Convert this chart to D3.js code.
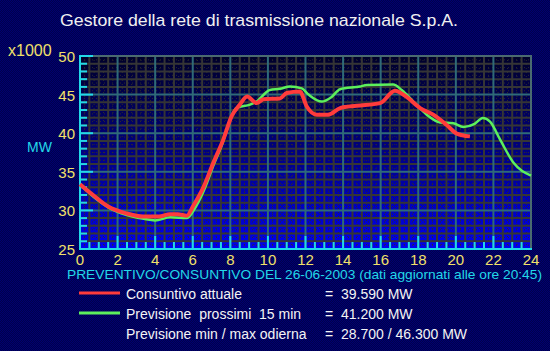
<!DOCTYPE html>
<html>
<head>
<meta charset="utf-8">
<script src="https://cdn.jsdelivr.net/npm/d3@7"></script>
<style>
  body { margin: 0; background: #000058; }
  svg { display: block; }
  text { font-family: "Liberation Sans", Arial, sans-serif; }
</style>
</head>
<body>
<svg id="chart" width="550" height="351"></svg>
<script>
// data (hours, MW x1000)
const consuntivoOre = [0, 0.14, 0.71, 1.5, 2.48, 3.37, 4.2, 4.79, 5.2, 5.68, 6.03, 6.56, 7.1, 7.63, 8.07, 8.5, 8.9, 9.4, 9.76, 10.64, 11.0, 11.7, 12.06, 12.6, 13.2, 13.84, 14.72, 15.97, 16.76, 17.38, 18.1, 18.8, 19.5, 20.05, 20.75];
const consuntivoMW  = [33.4, 33.1, 31.96, 30.5, 29.6, 29.2, 29.2, 29.5, 29.5, 29.3, 30.6, 32.95, 36.2, 39.2, 42.2, 43.7, 44.75, 43.9, 44.4, 44.5, 45.2, 45.4, 43.5, 42.4, 42.4, 43.25, 43.55, 43.9, 45.5, 44.7, 43.25, 42.4, 41.1, 39.95, 39.59];

const previsioneOre = [0, 0.7, 1.5, 2.5, 3.4, 4.0, 4.8, 5.7, 6.1, 6.6, 7.1, 7.6, 8.0, 8.34, 9.05, 9.4, 10.1, 10.64, 11.18, 11.8, 12.18, 12.86, 13.39, 13.84, 14.9, 15.26, 16.67, 17.12, 17.74, 18.45, 19.16, 19.86, 20.4, 21.0, 21.43, 21.82, 22.35, 23.06, 24];
const previsioneMW  = [33.3, 31.8, 30.4, 29.4, 28.9, 28.7, 29.1, 29.0, 30.2, 32.6, 35.8, 38.8, 41.8, 43.3, 43.7, 44.1, 45.6, 45.75, 46.05, 45.8, 44.97, 44.1, 44.7, 45.7, 46.05, 46.25, 46.3, 45.6, 44.1, 42.4, 41.4, 41.3, 40.8, 41.2, 41.96, 41.5, 39.2, 36.2, 34.5];

const xTicks = [0, 2, 4, 6, 8, 10, 12, 14, 16, 18, 20, 22, 24];
const yTicks = [25, 30, 35, 40, 45, 50];

const titolo = "Gestore della rete di trasmissione nazionale S.p.A.";
const sottotitolo = "PREVENTIVO/CONSUNTIVO DEL 26-06-2003 (dati aggiornati alle ore 20:45)";
const legenda = [
  { nome: "Consuntivo attuale", valore: "=  39.590 MW", colore: "#ff3b3b" },
  { nome: "Previsione  prossimi  15 min", valore: "=  41.200 MW", colore: "#5cf05c" },
  { nome: "Previsione min / max odierna", valore: "=  28.700 / 46.300 MW", colore: null }
];

const svg = d3.select("#chart");
const pLeft = 80, pRight = 531, pTop = 56, pBottom = 249;

const x = d3.scaleLinear().domain([0, 24]).range([pLeft, pRight]);
const y = d3.scaleLinear().domain([25, 50]).range([pBottom, pTop]);

// dithered background
const defs = svg.append("defs");
const pat = defs.append("pattern")
    .attr("id", "dither")
    .attr("width", 2).attr("height", 2)
    .attr("patternUnits", "userSpaceOnUse");
pat.append("rect").attr("width", 2).attr("height", 2).attr("fill", "#00004c");
pat.append("rect").attr("width", 1).attr("height", 1).attr("fill", "#000070");
pat.append("rect").attr("x", 1).attr("y", 1).attr("width", 1).attr("height", 1).attr("fill", "#000070");

const grad = defs.append("linearGradient")
    .attr("id", "plotbg")
    .attr("x1", 0).attr("y1", 0).attr("x2", 0).attr("y2", 1);
grad.append("stop").attr("offset", "0%").attr("stop-color", "#00002a");
grad.append("stop").attr("offset", "45%").attr("stop-color", "#000078");
grad.append("stop").attr("offset", "100%").attr("stop-color", "#0000f0");

svg.append("rect").attr("width", 550).attr("height", 351).attr("fill", "url(#dither)");

svg.append("rect")
    .attr("x", pLeft).attr("y", pTop)
    .attr("width", pRight - pLeft).attr("height", pBottom - pTop)
    .attr("fill", "url(#plotbg)");

// grid
const grid = svg.append("g").attr("class", "grid");

const quarterH = d3.range(0.25, 24, 0.5);
const halfH = d3.range(0.5, 24, 0.5).filter(d => d % 2 !== 0);
const twoH = d3.range(2, 24, 2);
const halfV = d3.range(25.5, 50, 1);
const unitV = d3.range(26, 50, 1).filter(d => d % 5 !== 0);
const fiveV = [30, 35, 40, 45];

grid.selectAll(".vq").data(quarterH).enter().append("line")
    .attr("x1", d => x(d)).attr("x2", d => x(d))
    .attr("y1", pTop).attr("y2", pBottom)
    .attr("stroke", "#2c2c2c").attr("stroke-width", 1)
    .attr("stroke-dasharray", "1,3");
grid.selectAll(".hq").data(halfV).enter().append("line")
    .attr("x1", pLeft).attr("x2", pRight)
    .attr("y1", d => y(d)).attr("y2", d => y(d))
    .attr("stroke", "#2c2c2c").attr("stroke-width", 1)
    .attr("stroke-dasharray", "1,3");
grid.selectAll(".vh").data(halfH).enter().append("line")
    .attr("x1", d => x(d)).attr("x2", d => x(d))
    .attr("y1", pTop).attr("y2", pBottom)
    .attr("stroke", "#353535").attr("stroke-width", 2);
grid.selectAll(".hu").data(unitV).enter().append("line")
    .attr("x1", pLeft).attr("x2", pRight)
    .attr("y1", d => y(d)).attr("y2", d => y(d))
    .attr("stroke", "#353535").attr("stroke-width", 2);
grid.selectAll(".v2").data(twoH).enter().append("line")
    .attr("x1", d => x(d)).attr("x2", d => x(d))
    .attr("y1", pTop).attr("y2", pBottom)
    .attr("stroke", "#2f6a78").attr("stroke-width", 2);
grid.selectAll(".h5").data(fiveV).enter().append("line")
    .attr("x1", pLeft).attr("x2", pRight)
    .attr("y1", d => y(d)).attr("y2", d => y(d))
    .attr("stroke", "#2f6a78").attr("stroke-width", 2);

// top / right border
grid.append("path")
    .attr("d", `M${pLeft},${pTop}H${pRight}V${pBottom}`)
    .attr("fill", "none").attr("stroke", "#4a6a70").attr("stroke-width", 2);

// left axis (cyan ticks inside)
const axisC = "#22d8e8";
const yMinor = d3.range(25, 50.01, 1);
svg.selectAll(".ytick").data(yMinor).enter().append("line")
    .attr("x1", pLeft).attr("x2", d => d % 5 === 0 ? pLeft + 13 : pLeft + 7)
    .attr("y1", d => y(d)).attr("y2", d => y(d))
    .attr("stroke", axisC).attr("stroke-width", 2);
svg.append("line")
    .attr("x1", pLeft).attr("x2", pLeft).attr("y1", pTop - 1).attr("y2", pBottom + 1)
    .attr("stroke", axisC).attr("stroke-width", 2);

// bottom axis (cyan ticks rising)
const xMinor = d3.range(0.5, 24, 0.5);
svg.selectAll(".xtick").data(xMinor).enter().append("line")
    .attr("x1", d => x(d)).attr("x2", d => x(d))
    .attr("y1", d => d % 2 === 0 ? pBottom - 13 : pBottom - 7).attr("y2", pBottom)
    .attr("stroke", axisC).attr("stroke-width", 2);
svg.append("line")
    .attr("x1", pLeft).attr("x2", pRight + 1).attr("y1", pBottom).attr("y2", pBottom)
    .attr("stroke", axisC).attr("stroke-width", 2);

// tick labels
const yellow = "#f2e06a";
svg.selectAll(".ylab").data(yTicks).enter().append("text")
    .attr("x", 75).attr("y", d => y(d) + 6)
    .attr("text-anchor", "end")
    .attr("font-size", 15).attr("fill", yellow)
    .text(d => d);
svg.selectAll(".xlab").data(xTicks).enter().append("text")
    .attr("x", d => x(d)).attr("y", 265)
    .attr("text-anchor", "middle")
    .attr("font-size", 15).attr("fill", yellow)
    .text(d => d);

svg.append("text")
    .attr("x", 8).attr("y", 56)
    .attr("font-size", 16).attr("fill", yellow)
    .text("x1000");
svg.append("text")
    .attr("x", 27).attr("y", 152)
    .attr("font-size", 14).attr("fill", axisC)
    .text("MW");

// lines
const line = d3.line()
    .x(d => x(d[0]))
    .y(d => y(d[1]))
    .curve(d3.curveMonotoneX);

svg.append("path")
    .datum(d3.zip(previsioneOre, previsioneMW))
    .attr("d", line)
    .attr("fill", "none")
    .attr("stroke", legenda[1].colore)
    .attr("stroke-width", 2.5);

svg.append("path")
    .datum(d3.zip(consuntivoOre, consuntivoMW))
    .attr("d", line)
    .attr("fill", "none")
    .attr("stroke", legenda[0].colore)
    .attr("stroke-width", 4);

// title and texts
svg.append("text")
    .attr("x", 60).attr("y", 26)
    .attr("font-size", 17).attr("fill", "#f0f0f0")
    .attr("textLength", 398).attr("lengthAdjust", "spacingAndGlyphs")
    .text(titolo);

svg.append("text")
    .attr("x", 67).attr("y", 279)
    .attr("font-size", 13).attr("fill", axisC)
    .attr("textLength", 475).attr("lengthAdjust", "spacingAndGlyphs")
    .text(sottotitolo);

const leg = svg.append("g").attr("class", "legend")
    .selectAll("g").data(legenda).enter().append("g")
    .attr("transform", (d, i) => `translate(0,${299 + i * 20})`);

leg.filter(d => d.colore).append("line")
    .attr("x1", 79).attr("x2", 120)
    .attr("y1", -6).attr("y2", -6)
    .attr("stroke", d => d.colore).attr("stroke-width", 3);

leg.append("text")
    .attr("x", 126).attr("y", 0)
    .attr("font-size", 14).attr("fill", "#f4f4f4")
    .style("white-space", "pre")
    .text(d => d.nome);

leg.append("text")
    .attr("x", 325).attr("y", 0)
    .attr("font-size", 14).attr("fill", "#f4f4f4")
    .style("white-space", "pre")
    .text(d => d.valore);
</script>
</body>
</html>
